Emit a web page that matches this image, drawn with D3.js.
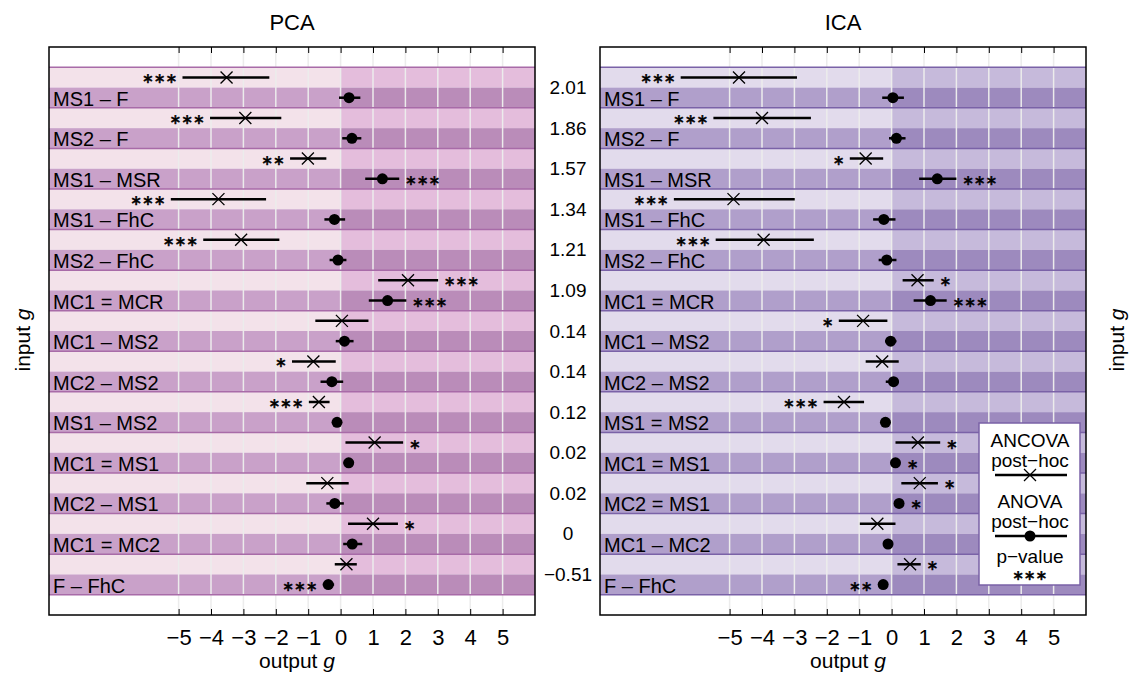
<!DOCTYPE html>
<html>
<head>
<meta charset="utf-8">
<script src="https://cdn.jsdelivr.net/npm/d3@7"></script>
<style>
  body { margin: 0; background: #fff; }
  text { font-family: "Liberation Sans", Arial, sans-serif; fill: #000; }
</style>
</head>
<body>
<svg id="chart"></svg>
<script>
// chart.js

// Row labels for each panel (top to bottom).
const pcaLabels = ["MS1 – F", "MS2 – F", "MS1 – MSR", "MS1 – FhC", "MS2 – FhC", "MC1 = MCR",
  "MC1 – MS2", "MC2 – MS2", "MS1 – MS2", "MC1 = MS1", "MC2 – MS1", "MC1 = MC2", "F – FhC"];
const icaLabels = ["MS1 – F", "MS2 – F", "MS1 – MSR", "MS1 – FhC", "MS2 – FhC", "MC1 = MCR",
  "MC1 – MS2", "MC2 – MS2", "MS1 = MS2", "MC1 = MS1", "MC2 = MS1", "MC1 – MC2", "F – FhC"];

// Values printed between the panels.
const middleValues = ["2.01", "1.86", "1.57", "1.34", "1.21", "1.09", "0.14", "0.14", "0.12", "0.02", "0.02", "0", "−0.51"];

// ANCOVA post-hoc: [low, estimate, high]
const pcaAncova = [[-4.88, -3.52, -2.2], [-4.03, -2.94, -1.83], [-1.56, -1.01, -0.44], [-5.24, -3.77, -2.3],
  [-4.24, -3.07, -1.89], [1.16, 2.08, 3.01], [-0.78, 0.04, 0.86], [-1.5, -0.84, -0.15], [-0.98, -0.67, -0.34],
  [0.15, 1.05, 1.93], [-1.06, -0.41, 0.25], [0.23, 1.0, 1.77], [-0.18, 0.18, 0.5]];
const pcaAncovaStars = [3, 3, 2, 3, 3, 3, 0, 1, 3, 1, 0, 1, 0];

// ANOVA post-hoc: [low, estimate, high]
const pcaAnova = [[-0.05, 0.26, 0.61], [0.05, 0.35, 0.64], [0.76, 1.29, 1.81], [-0.5, -0.19, 0.14],
  [-0.34, -0.08, 0.18], [0.87, 1.45, 2.03], [-0.15, 0.12, 0.4], [-0.62, -0.27, 0.08], [-0.2, -0.11, -0.03],
  [0.09, 0.25, 0.4], [-0.44, -0.18, 0.1], [0.08, 0.36, 0.67], [-0.55, -0.38, -0.2]];
const pcaAnovaStars = [0, 0, 3, 0, 0, 3, 0, 0, 0, 0, 0, 0, 3];

const icaAncova = [[-6.51, -4.71, -2.92], [-5.5, -4.0, -2.49], [-1.29, -0.8, -0.26], [-6.72, -4.88, -2.99],
  [-5.43, -3.95, -2.4], [0.34, 0.8, 1.3], [-1.63, -0.88, -0.13], [-0.8, -0.29, 0.22], [-2.1, -1.47, -0.85],
  [0.12, 0.81, 1.5], [0.3, 0.87, 1.43], [-0.98, -0.44, 0.12], [0.18, 0.57, 0.9]];
const icaAncovaStars = [3, 3, 1, 3, 3, 1, 1, 0, 3, 1, 1, 0, 1];

const icaAnova = [[-0.29, 0.04, 0.38], [-0.08, 0.15, 0.43], [0.85, 1.41, 2.0], [-0.57, -0.24, 0.12],
  [-0.4, -0.15, 0.15], [0.68, 1.2, 1.7], [-0.2, -0.03, 0.15], [-0.18, 0.06, 0.22], [-0.25, -0.19, -0.13],
  [0.06, 0.12, 0.18], [0.17, 0.23, 0.29], [-0.17, -0.11, -0.05], [-0.32, -0.26, -0.2]];
const icaAnovaStars = [0, 0, 3, 0, 0, 3, 0, 0, 0, 1, 1, 0, 2];

const xTicks = [-5, -4, -3, -2, -1, 0, 1, 2, 3, 4, 5];

// Canvas
const width = 1129, height = 679;
const svg = d3.select("#chart").attr("width", width).attr("height", height);

const plotTop = 47, plotBottom = 615;
const nRows = pcaLabels.length;
// 2 sub-rows per comparison plus one blank band at top and bottom
const y = d3.scaleLinear().domain([0, nRows * 2 + 2]).range([plotTop, plotBottom]);

const pcaColors = { lightL: "#f3e2ea", lightR: "#e4bddc", darkL: "#c9a1c9", darkR: "#ba8cb9", sep: "#a86ba8" };
const icaColors = { lightL: "#e2dbec", lightR: "#c6badb", darkL: "#b09fcb", darkR: "#9d8abe", sep: "#7a62a7" };

// one text per group of p-value stars
function drawStars(g, n, x0, yy, anchor) {
  g.append("text")
    .attr("x", x0).attr("y", yy + 1)
    .attr("text-anchor", anchor).attr("dominant-baseline", "central")
    .attr("stroke", "#000").attr("stroke-width", 0.6)
    .style("font-family", "'DejaVu Sans', sans-serif")
    .style("font-size", "14px")
    .text("∗".repeat(n));
}

function drawPanel(opts) {
  const x = d3.scaleLinear().domain([-9, 6]).range([opts.left, opts.right]);
  const g = svg.append("g");
  const c = opts.colors;

  // row bands
  for (let i = 0; i < nRows; i++) {
    const yl = y(i * 2 + 1), yd = y(i * 2 + 2), ye = y(i * 2 + 3);
    g.append("rect").attr("x", x(-9)).attr("y", yl).attr("width", x(0) - x(-9)).attr("height", yd - yl).attr("fill", c.lightL);
    g.append("rect").attr("x", x(0)).attr("y", yl).attr("width", x(6) - x(0)).attr("height", yd - yl).attr("fill", c.lightR);
    g.append("rect").attr("x", x(-9)).attr("y", yd).attr("width", x(0) - x(-9)).attr("height", ye - yd).attr("fill", c.darkL);
    g.append("rect").attr("x", x(0)).attr("y", yd).attr("width", x(6) - x(0)).attr("height", ye - yd).attr("fill", c.darkR);
  }

  // grid
  g.selectAll(".grid").data(xTicks).join("line")
    .attr("x1", d => x(d)).attr("x2", d => x(d))
    .attr("y1", plotTop).attr("y2", plotBottom)
    .attr("stroke", "#ececec").attr("stroke-width", 1.5);

  // separators between comparisons
  g.selectAll(".sep").data(d3.range(nRows + 1)).join("line")
    .attr("x1", x(-9)).attr("x2", x(6))
    .attr("y1", d => y(d * 2 + 1)).attr("y2", d => y(d * 2 + 1))
    .attr("stroke", c.sep).attr("stroke-width", 1.5);

  // row labels
  g.selectAll(".lab").data(opts.labels).join("text")
    .attr("x", x(-9) + 4).attr("y", (d, i) => y(i * 2 + 2.5) + 1)
    .attr("dominant-baseline", "central")
    .style("font-size", "20px")
    .text(d => d);

  // intervals
  function drawSeries(data, stars, offset, marker) {
    data.forEach((d, i) => {
      const yy = y(i * 2 + offset);
      g.append("line").attr("x1", x(d[0])).attr("x2", x(d[2])).attr("y1", yy).attr("y2", yy)
        .attr("stroke", "#000").attr("stroke-width", 2.5);
      const cx = x(d[1]);
      if (marker === "x") {
        const s = 6;
        g.append("path").attr("d", `M${cx - s},${yy - s}L${cx + s},${yy + s}M${cx - s},${yy + s}L${cx + s},${yy - s}`)
          .attr("stroke", "#000").attr("stroke-width", 1.3).attr("fill", "none");
      } else {
        g.append("circle").attr("cx", cx).attr("cy", yy).attr("r", 5.5).attr("fill", "#000");
      }
      if (stars[i]) {
        const ext = marker === "x" ? 0 : 5.5;
        if (d[1] < 0) {
          drawStars(g, stars[i], Math.min(x(d[0]), cx - ext) - 5, yy, "end");
        } else {
          drawStars(g, stars[i], Math.max(x(d[2]), cx + ext) + 6, yy, "start");
        }
      }
    });
  }
  drawSeries(opts.ancova, opts.ancovaStars, 1.5, "x");
  drawSeries(opts.anova, opts.anovaStars, 2.5, "dot");

  // axes ticks
  const axB = d3.axisBottom(x).tickValues(xTicks).tickSizeInner(-6).tickSizeOuter(0).tickPadding(14);
  const gb = g.append("g").attr("transform", `translate(0,${plotBottom})`).call(axB);
  gb.select(".domain").remove();
  gb.selectAll(".tick text").style("font-size", "22px").style("font-family", "'Liberation Sans', Arial, sans-serif");
  gb.selectAll(".tick line").attr("stroke", "#000");
  const axT = d3.axisTop(x).tickValues(xTicks).tickSizeInner(-6).tickSizeOuter(0).tickFormat("");
  const gt = g.append("g").attr("transform", `translate(0,${plotTop})`).call(axT);
  gt.select(".domain").remove();

  // frame
  g.append("rect").attr("x", x(-9)).attr("y", plotTop).attr("width", x(6) - x(-9)).attr("height", plotBottom - plotTop)
    .attr("fill", "none").attr("stroke", "#000").attr("stroke-width", 1.5);

  // titles
  const mid = (opts.left + opts.right) / 2;
  g.append("text").attr("x", mid).attr("y", 22).attr("text-anchor", "middle").attr("dominant-baseline", "central")
    .style("font-size", "22px").text(opts.title);
  const xl = g.append("text").attr("x", mid + 5).attr("y", 660).attr("text-anchor", "middle")
    .attr("dominant-baseline", "central").style("font-size", "21px");
  xl.append("tspan").text("output ");
  xl.append("tspan").style("font-style", "italic").text("g");

  return x;
}

drawPanel({ left: 49, right: 535, colors: pcaColors, labels: pcaLabels, title: "PCA",
  ancova: pcaAncova, ancovaStars: pcaAncovaStars, anova: pcaAnova, anovaStars: pcaAnovaStars });
drawPanel({ left: 600, right: 1086, colors: icaColors, labels: icaLabels, title: "ICA",
  ancova: icaAncova, ancovaStars: icaAncovaStars, anova: icaAnova, anovaStars: icaAnovaStars });

// middle values
svg.selectAll(".mid").data(middleValues).join("text")
  .attr("x", 568).attr("y", (d, i) => y(i * 2 + 2))
  .attr("text-anchor", "middle").attr("dominant-baseline", "central")
  .style("font-size", "19px").text(d => d);

// y-axis labels
[22, 1116].forEach(px => {
  const t = svg.append("text").attr("transform", `translate(${px},340) rotate(-90)`)
    .attr("text-anchor", "middle").attr("dominant-baseline", "central").style("font-size", "21px");
  t.append("tspan").text("input ");
  t.append("tspan").style("font-style", "italic").text("g");
});

// legend
const lg = svg.append("g").attr("transform", "translate(979,423)");
lg.append("rect").attr("width", 101).attr("height", 162).attr("fill", "#fff")
  .attr("stroke", icaColors.sep).attr("stroke-width", 1.5);
const lc = 51;
[["ANCOVA", 17], ["post−hoc", 37], ["ANOVA", 78], ["post−hoc", 98], ["p−value", 133]].forEach(([t, yy]) => {
  lg.append("text").attr("x", lc).attr("y", yy).attr("text-anchor", "middle")
    .attr("dominant-baseline", "central").style("font-size", "19px").text(t);
});
lg.append("line").attr("x1", 16).attr("x2", 88).attr("y1", 52).attr("y2", 52).attr("stroke", "#000").attr("stroke-width", 2.5);
lg.append("path").attr("d", `M${lc - 6},46L${lc + 6},58M${lc - 6},58L${lc + 6},46`).attr("stroke", "#000").attr("stroke-width", 1.3);
lg.append("line").attr("x1", 16).attr("x2", 88).attr("y1", 113).attr("y2", 113).attr("stroke", "#000").attr("stroke-width", 2.5);
lg.append("circle").attr("cx", lc).attr("cy", 113).attr("r", 5.5).attr("fill", "#000");
drawStars(lg, 3, lc, 151, "middle");
</script>
</body>
</html>
